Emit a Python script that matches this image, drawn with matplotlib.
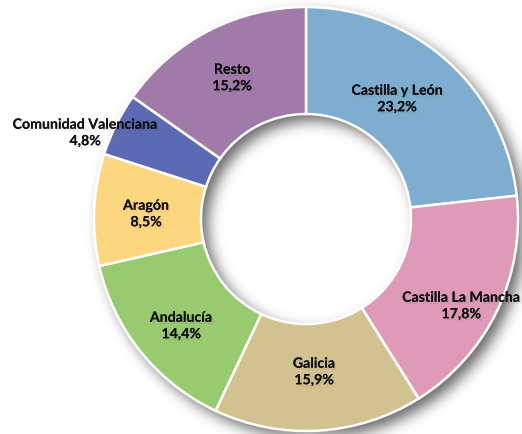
import numpy as np
import matplotlib
matplotlib.use("Agg")
import matplotlib.pyplot as plt
from matplotlib.patches import Wedge
import matplotlib.patheffects as pe

# ---- data ----
regions = ["Castilla y León", "Castilla La Mancha", "Galicia", "Andalucía",
           "Aragón", "Comunidad Valenciana", "Resto"]
shares = [23.2, 17.8, 15.9, 14.4, 8.5, 4.8, 15.2]
pct_labels = ["23,2%", "17,8%", "15,9%", "14,4%", "8,5%", "4,8%", "15,2%"]
colors = ["#7FADCF", "#DF9AB8", "#D2C28F", "#98CA6F", "#FDD780", "#5B6AB2", "#A07BAA"]

W, H = 522, 435
cx, cy = 306, 220          # pixel coords (y down)
R_out, R_in = 212, 105

fig = plt.figure(figsize=(W / 100, H / 100), dpi=100)
ax = fig.add_axes([0, 0, 1, 1])
ax.set_xlim(0, W)
ax.set_ylim(H, 0)
ax.axis("off")

# ---- soft drop shadow (annulus offset to lower-right, blurred) ----
yy, xx = np.mgrid[0:H, 0:W] + 0.5
dx, dy = 7, 7
rr = np.hypot(xx - cx - dx, yy - cy - dy)
mask = ((rr <= R_out) & (rr >= R_in)).astype(float)

def blur(img, sigma):
    k = int(3 * sigma)
    t = np.arange(-k, k + 1)
    g = np.exp(-t ** 2 / (2 * sigma ** 2))
    g /= g.sum()
    img = np.apply_along_axis(lambda m: np.convolve(m, g, mode="same"), 0, img)
    img = np.apply_along_axis(lambda m: np.convolve(m, g, mode="same"), 1, img)
    return img

sh = blur(mask, 7)
rgba = np.zeros((H, W, 4))
rgba[..., 3] = sh * 0.6
ax.imshow(rgba, extent=(0, W, H, 0), origin="upper", zorder=1, interpolation="bilinear")

# ---- ring: clockwise from 12 o'clock (y axis is inverted, so angles flip) ----
total = sum(shares)
start = -90.0  # top in inverted-y coordinates
for val, col in zip(shares, colors):
    span = 360.0 * val / total
    w = Wedge((cx, cy), R_out, start, start + span, width=R_out - R_in,
              facecolor=col, edgecolor="white", linewidth=1.8, zorder=2)
    ax.add_patch(w)
    start += span

# ---- labels ----
label_pos = [(397, 100), (461, 307), (314, 373), (181, 327),
             (146, 215), (85, 134), (232, 79)]
shadow = [pe.withSimplePatchShadow(offset=(1.5, -1.5), shadow_rgbFace="#000000", alpha=0.06),
          pe.Normal()]
for name, pct, (x, y) in zip(regions, pct_labels, label_pos):
    ax.text(x, y, f"{name}\n{pct}", ha="center", va="center", fontsize=10.2,
            family=["Lato", "DejaVu Sans"], fontweight="bold", color="#111111",
            linespacing=1.45, zorder=4, path_effects=shadow)

fig.savefig("out.png", dpi=100)
